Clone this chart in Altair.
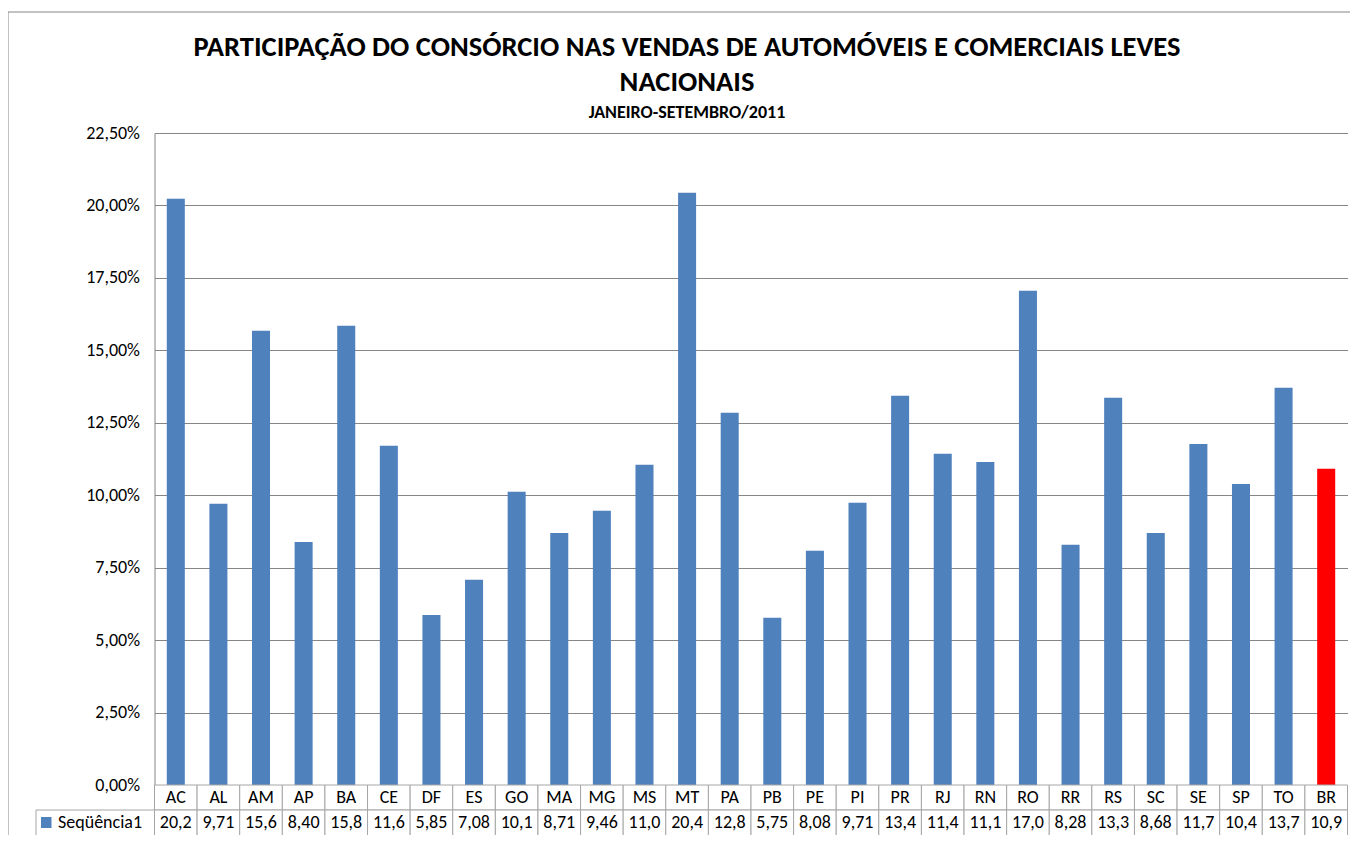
import altair as alt
import pandas as pd

FONT = "Carlito, Calibri, Lato, sans-serif"

categories = ["AC", "AL", "AM", "AP", "BA", "CE", "DF", "ES", "GO", "MA", "MG", "MS", "MT", "PA",
              "PB", "PE", "PI", "PR", "RJ", "RN", "RO", "RR", "RS", "SC", "SE", "SP", "TO", "BR"]
values = [20.23, 9.71, 15.68, 8.39, 15.85, 11.71, 5.87, 7.08, 10.12, 8.70, 9.46, 11.05, 20.44, 12.85,
          5.77, 8.08, 9.74, 13.43, 11.43, 11.15, 17.06, 8.29, 13.36, 8.70, 11.77, 10.39, 13.71, 10.91]
table_labels = ["20,2", "9,71", "15,6", "8,40", "15,8", "11,6", "5,85", "7,08", "10,1", "8,71", "9,46",
                "11,0", "20,4", "12,8", "5,75", "8,08", "9,71", "13,4", "11,4", "11,1", "17,0", "8,28",
                "13,3", "8,68", "11,7", "10,4", "13,7", "10,9"]
highlight = "BR"
y_ticks = [0.0, 2.5, 5.0, 7.5, 10.0, 12.5, 15.0, 17.5, 20.0, 22.5]
series_name = ["Seqüência1"]
title_lines = ["PARTICIPAÇÃO DO CONSÓRCIO NAS VENDAS DE AUTOMÓVEIS E COMERCIAIS LEVES", "NACIONAIS"]
subtitle = ["JANEIRO-SETEMBRO/2011"]

BLUE = "#4F81BD"
RED = "#FF0000"
GRID = "#868686"
CELL = "#A6A6A6"

W, H = 1193, 652

df = pd.DataFrame({
    "cat": categories,
    "value": values,
    "label": table_labels,
    "color": [RED if c == highlight else BLUE for c in categories],
})

x_bar = alt.X("cat:N", sort=categories,
              scale=alt.Scale(paddingInner=0.577, paddingOuter=0.2885), axis=None)
x_cell = alt.X("cat:N", sort=categories,
               scale=alt.Scale(paddingInner=0, paddingOuter=0), axis=None)

label_expr = "replace(format(datum.value, '.2f'), '.', ',') + '%'"

bars = alt.Chart(df).mark_bar().encode(
    x=x_bar,
    y=alt.Y("value:Q",
            scale=alt.Scale(domain=[0, 22.5], nice=False, zero=True),
            axis=alt.Axis(values=y_ticks, labelExpr=label_expr, title=None, grid=True,
                          gridColor=GRID, gridWidth=1, domainColor=GRID, ticks=False,
                          labelPadding=15, labelFontSize=18, labelFont=FONT,
                          labelColor="#000000")),
    color=alt.Color("color:N", scale=None),
)

# data table below the plot (rows compressed slightly so the page does not overflow)
R1_TOP, R1_BOT, R2_BOT = 652, 677, 720
row1 = alt.Chart(df).mark_rect(fill="white", stroke=CELL, strokeWidth=1).encode(
    x=x_cell, y=alt.value(R1_TOP), y2=alt.value(R1_BOT))
row2 = alt.Chart(df).mark_rect(fill="white", stroke=CELL, strokeWidth=1).encode(
    x=x_cell, y=alt.value(R1_BOT), y2=alt.value(R2_BOT))
row1_text = alt.Chart(df).mark_text(font=FONT, fontSize=18, baseline="middle", color="black").encode(
    x=x_cell, y=alt.value(664.5), text="cat:N")
row2_text = alt.Chart(df).mark_text(font=FONT, fontSize=18, baseline="middle", color="black").encode(
    x=x_cell, y=alt.value(689.5), text="label:N")

hdr = pd.DataFrame({"t": series_name})
hdr_cell = alt.Chart(hdr).mark_rect(fill="white", stroke=CELL, strokeWidth=1).encode(
    x=alt.value(-118.5), x2=alt.value(0), y=alt.value(R1_BOT), y2=alt.value(R2_BOT))
hdr_key = alt.Chart(hdr).mark_rect(fill=BLUE).encode(
    x=alt.value(-113.5), x2=alt.value(-103), y=alt.value(684), y2=alt.value(695))
hdr_text = alt.Chart(hdr).mark_text(font=FONT, fontSize=18, align="left", baseline="middle",
                                    color="black").encode(
    x=alt.value(-96.5), y=alt.value(689.5), text="t:N")

# outer chart frame
frame_left = alt.Chart(hdr).mark_rule(color=GRID, strokeWidth=1).encode(
    x=alt.value(-146.5), y=alt.value(-121), y2=alt.value(R2_BOT))
frame_top = alt.Chart(hdr).mark_rule(color=GRID, strokeWidth=1).encode(
    x=alt.value(-146.5), x2=alt.value(1230), y=alt.value(-121))

title1 = alt.Chart(pd.DataFrame({"t": title_lines[:1]})).mark_text(
    font=FONT, fontSize=28.5, fontWeight="bold", align="center", baseline="middle", color="black"
).encode(x=alt.value(532.5), y=alt.value(-86), text="t:N")
title2 = alt.Chart(pd.DataFrame({"t": title_lines[1:]})).mark_text(
    font=FONT, fontSize=28.5, fontWeight="bold", align="center", baseline="middle", color="black"
).encode(x=alt.value(532.5), y=alt.value(-51), text="t:N")
sub = alt.Chart(pd.DataFrame({"t": subtitle})).mark_text(
    font=FONT, fontSize=18, fontWeight="bold", align="center", baseline="middle", color="black"
).encode(x=alt.value(532.5), y=alt.value(-20), text="t:N")

table = alt.layer(row1, row2, row1_text, row2_text)

chart = alt.layer(
    frame_left, frame_top, bars, table, hdr_cell, hdr_key, hdr_text, title1, title2, sub
).resolve_scale(x="independent").properties(
    width=W, height=H,
    autosize=alt.AutoSizeParams(type="none"),
    padding={"left": 146.5, "top": 125, "right": 2, "bottom": 50},
    background="white",
).configure_view(stroke=None)

chart.save("out.html", embed_options={"renderer": "svg", "actions": False})
